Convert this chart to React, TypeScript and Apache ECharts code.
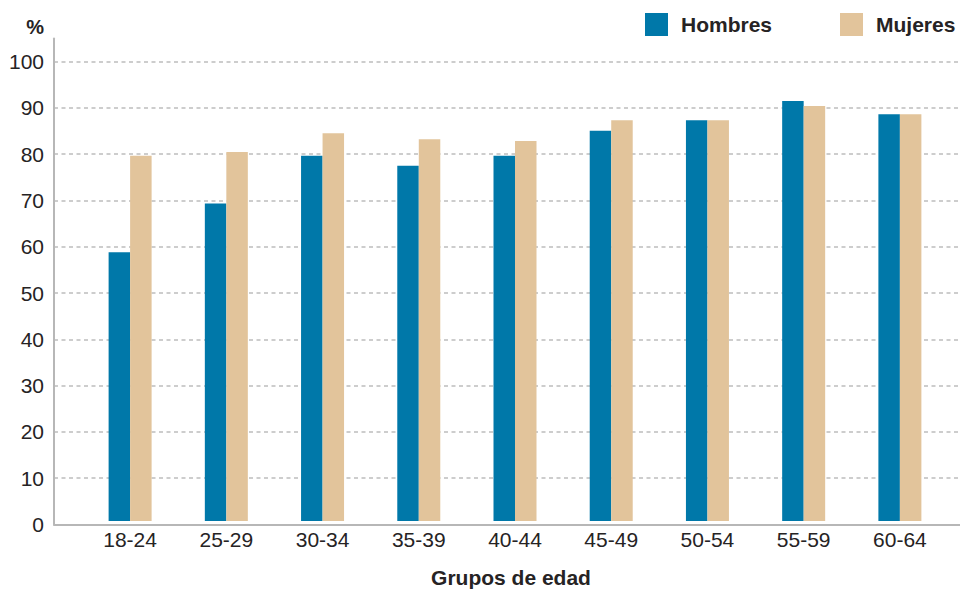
import React, { useEffect, useRef } from "react";
import * as echarts from "echarts";

// Age groups and the share (%) for each sex
const categories = ["18-24", "25-29", "30-34", "35-39", "40-44", "45-49", "50-54", "55-59", "60-64"];
const hombres = [58.5, 69.1, 79.5, 77.3, 79.5, 84.9, 87.2, 91.4, 88.5];
const mujeres = [79.5, 80.3, 84.4, 83.1, 82.7, 87.2, 87.2, 90.3, 88.5];
const yTicks = { min: 0, max: 105, interval: 10 };

const FONT = '"Liberation Sans", Arial, Helvetica, sans-serif';
const BLUE = "#0078a9";
const TAN = "#e2c49b";
const AXIS_GREY = "#b7b7b7";
const TEXT = "#262324";

export default function App() {
  const ref = useRef<HTMLDivElement>(null);

  useEffect(() => {
    if (!ref.current) return;
    const chart = echarts.init(ref.current, undefined, { renderer: "svg" });
    chart.setOption({
      animation: false,
      textStyle: { fontFamily: FONT },
      legend: {
        data: ["Hombres", "Mujeres"],
        left: 645,
        top: 13,
        padding: 0,
        icon: "rect",
        itemWidth: 23,
        itemHeight: 23,
        itemGap: 68,
        textStyle: {
          fontFamily: FONT,
          fontSize: 21,
          fontWeight: "bold",
          color: TEXT,
          padding: [0, 0, 0, 8],
        },
      },
      grid: [
        // frame grid: axis lines, value labels and dashed guides
        { left: 54, right: 0, top: 38.5, bottom: 68.5 },
        // plotting grid for the bars, inset from the frame
        { left: 82, right: 12, top: 38.5, bottom: 68.5 },
      ],
      xAxis: [
        {
          gridIndex: 0,
          type: "value",
          min: 0,
          max: 1,
          z: 5,
          axisLine: { show: true, lineStyle: { color: AXIS_GREY, width: 2 } },
          axisTick: { show: false },
          axisLabel: { show: false },
          splitLine: { show: false },
        },
        {
          gridIndex: 1,
          type: "category",
          data: categories,
          axisLine: { show: false },
          axisTick: { show: false },
          axisLabel: { fontFamily: FONT, fontSize: 21, color: TEXT, margin: 8 },
          name: "Grupos de edad",
          nameLocation: "middle",
          nameGap: 46,
          nameTextStyle: {
            fontFamily: FONT,
            fontSize: 21,
            fontWeight: "bold",
            color: TEXT,
            padding: [0, 8, 0, 0],
          },
        },
      ],
      yAxis: [
        {
          gridIndex: 0,
          type: "value",
          min: yTicks.min,
          max: yTicks.max,
          interval: yTicks.interval,
          axisLine: { show: true, lineStyle: { color: AXIS_GREY, width: 2 } },
          axisTick: { show: false },
          axisLabel: {
            fontFamily: FONT,
            fontSize: 21,
            color: TEXT,
            margin: 10,
            showMaxLabel: false,
          },
          splitLine: {
            show: true,
            showMinLine: false,
            showMaxLine: false,
            lineStyle: { color: "#bdbdbd", width: 1.5, type: [4, 3.5] },
          },
          name: "%",
          nameLocation: "end",
          nameGap: 12,
          nameTextStyle: {
            fontFamily: FONT,
            fontSize: 20,
            fontWeight: "bold",
            color: TEXT,
            align: "right",
            verticalAlign: "middle",
            padding: [0, 10, 0, 0],
          },
        },
        {
          gridIndex: 1,
          type: "value",
          min: yTicks.min,
          max: yTicks.max,
          interval: yTicks.interval,
          show: false,
        },
      ],
      series: [
        {
          name: "Hombres",
          type: "bar",
          xAxisIndex: 1,
          yAxisIndex: 1,
          data: hombres,
          barWidth: 21.5,
          barGap: "0%",
          itemStyle: { color: BLUE },
        },
        {
          name: "Mujeres",
          type: "bar",
          xAxisIndex: 1,
          yAxisIndex: 1,
          data: mujeres,
          barWidth: 21.5,
          barGap: "0%",
          itemStyle: { color: TAN },
        },
      ],
    });
    return () => chart.dispose();
  }, []);

  return (
    <div
      ref={ref}
      style={{ position: "absolute", left: 0, top: 0, width: 960, height: 593, background: "#fff" }}
    />
  );
}
